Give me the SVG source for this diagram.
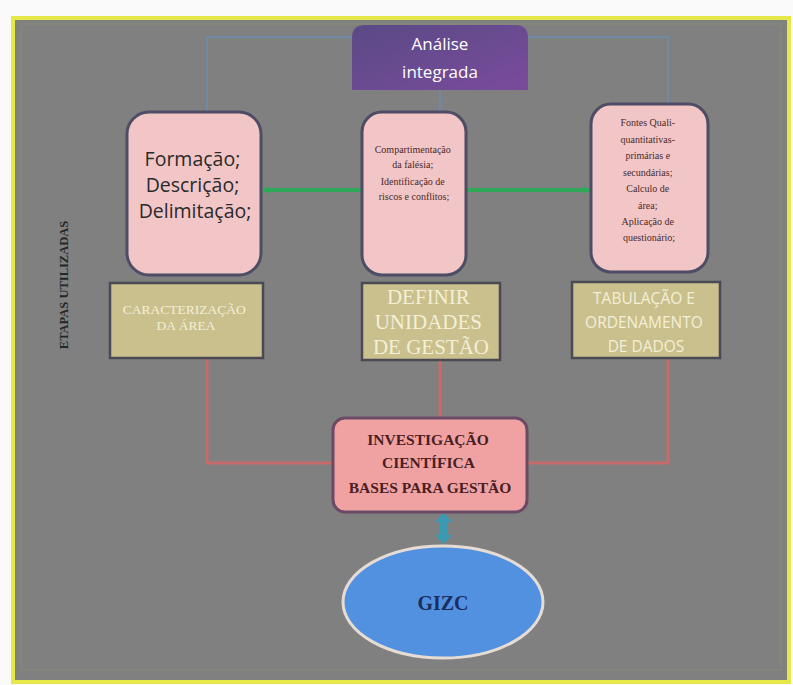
<svg xmlns="http://www.w3.org/2000/svg" width="793" height="685" viewBox="0 0 793 685">
<defs>
<style>
.pinkbox{fill:#f2c6c6;stroke:#4d4d66;stroke-width:3}
.khaki{fill:#c9c08e;stroke:#4a4a55;stroke-width:2.5}
.serif{font-family:"Liberation Serif","DejaVu Serif",serif}
.sans{font-family:"Open Sans","Liberation Sans",sans-serif}
.cream{fill:#f4efd6}
.blue{stroke:#6f8aa3;stroke-width:2;fill:none}
.red{stroke:#c86a6a;stroke-width:3;fill:none}
.green{stroke:#2fa85a;stroke-width:4;fill:none}
</style>
<linearGradient id="purp" x1="0" y1="0" x2="1" y2="1">
<stop offset="0" stop-color="#5a4a86"/>
<stop offset="1" stop-color="#7a4b9c"/>
</linearGradient>
<marker id="garrow" markerWidth="8" markerHeight="8" refX="6" refY="4" orient="auto" markerUnits="userSpaceOnUse">
<path d="M0,0 L8,4 L0,8 z" fill="#2fa85a"/>
</marker>
</defs>
<rect x="0" y="0" width="793" height="685" fill="#fafafa"/>
<g id="frame">
<rect x="13" y="18" width="776" height="664" fill="#808080" stroke="#e6e84a" stroke-width="4"/>
<rect x="21" y="24" width="760" height="646" fill="none" stroke="#8a8a78" stroke-width="1"/>
</g>
<g id="connectors">
<path class="blue" d="M352,37 H207 V112"/>
<path class="blue" d="M528,37 H668 V104"/>
<path class="blue" d="M440,90 V112"/>
<line class="green" x1="362" y1="190" x2="264" y2="190" marker-end="url(#garrow)"/>
<line class="green" x1="466" y1="190" x2="589" y2="190" marker-end="url(#garrow)"/>
<path class="red" d="M207,358 V463 H333"/>
<path class="red" d="M440,360 V418"/>
<path class="red" d="M668,358 V463 H527"/>
<g id="gizc-link" fill="#3a9ab2">
<rect x="440" y="520" width="7" height="17"/>
<path d="M435,522 L443.5,513 L452,522 Z"/>
<path d="M435,535 L443.5,544 L452,535 Z"/>
</g>
</g>
<g id="analise">
<path d="M352,90 V38 Q352,25 365,25 H515 Q528,25 528,38 V90 Z" fill="url(#purp)"/>
<text class="sans" x="440" y="50" font-size="17" fill="#ffffff" text-anchor="middle">Análise</text>
<text class="sans" x="440" y="78" font-size="17" fill="#ffffff" text-anchor="middle">integrada</text>
</g>
<g id="formacao">
<rect class="pinkbox" x="127" y="112" width="134" height="163" rx="22"/>
<text class="sans" font-size="19.5" fill="#2a2a2a" text-anchor="middle">
<tspan x="195" y="166">Formação;</tspan>
<tspan x="195" y="192">Descrição;</tspan>
<tspan x="195" y="218">Delimitação;</tspan>
</text>
</g>
<g id="compartimentacao">
<rect class="pinkbox" x="362" y="112" width="104" height="163" rx="20"/>
<text class="serif" font-size="10" fill="#4a2a2a" text-anchor="middle">
<tspan x="414" y="153">Compartimentação</tspan>
<tspan x="414" y="168">da falésia;</tspan>
<tspan x="414" y="185">Identificação de</tspan>
<tspan x="414" y="200">riscos e conflitos;</tspan>
</text>
</g>
<g id="fontes">
<rect class="pinkbox" x="591" y="104" width="117" height="168" rx="20"/>
<text class="serif" font-size="10" fill="#4a2a2a" text-anchor="middle">
<tspan x="649" y="126">Fontes Quali-</tspan>
<tspan x="649" y="143">quantitativas-</tspan>
<tspan x="649" y="159">primárias e</tspan>
<tspan x="649" y="176">secundárias;</tspan>
<tspan x="649" y="192">Calculo de</tspan>
<tspan x="649" y="209">área;</tspan>
<tspan x="649" y="225">Aplicação de</tspan>
<tspan x="649" y="241">questionário;</tspan>
</text>
</g>
<g id="caracterizacao">
<rect class="khaki" x="110" y="283" width="153" height="75"/>
<text class="serif cream" font-size="13.5" text-anchor="middle">
<tspan x="186" y="314">CARACTERIZAÇÃO</tspan>
<tspan x="186" y="330">DA ÁREA</tspan>
</text>
</g>
<g id="definir">
<rect class="khaki" x="362" y="283" width="138" height="77"/>
<text class="serif cream" font-size="21" text-anchor="middle">
<tspan x="431" y="304">DEFINIR</tspan>
<tspan x="431" y="329">UNIDADES</tspan>
<tspan x="431" y="354">DE GESTÃO</tspan>
</text>
</g>
<g id="tabulacao">
<rect class="khaki" x="572" y="282" width="148" height="76"/>
<text class="sans cream" font-size="15.5" text-anchor="middle">
<tspan x="646" y="304">TABULAÇÃO E</tspan>
<tspan x="646" y="328">ORDENAMENTO</tspan>
<tspan x="646" y="352">DE DADOS</tspan>
</text>
</g>
<g id="investigacao">
<rect x="333" y="418" width="194" height="94" rx="12" fill="#f0a2a2" stroke="#6a4a66" stroke-width="3"/>
<text class="serif" font-size="15.5" font-weight="bold" fill="#4a1e22" text-anchor="middle">
<tspan x="430" y="445">INVESTIGAÇÃO</tspan>
<tspan x="430" y="468">CIENTÍFICA</tspan>
<tspan x="430" y="493">BASES PARA GESTÃO</tspan>
</text>
</g>
<g id="gizc">
<ellipse cx="443" cy="602" rx="100" ry="56" fill="#5290e0" stroke="#e6dcd4" stroke-width="3"/>
<text class="serif" x="443" y="610" font-size="20" font-weight="bold" fill="#1c2e5e" text-anchor="middle">GIZC</text>
</g>
<g id="etapas">
<text class="serif" transform="translate(68,285) rotate(-90)" font-size="12.5" font-weight="bold" fill="#262626" text-anchor="middle">ETAPAS UTILIZADAS</text>
</g>
</svg>
